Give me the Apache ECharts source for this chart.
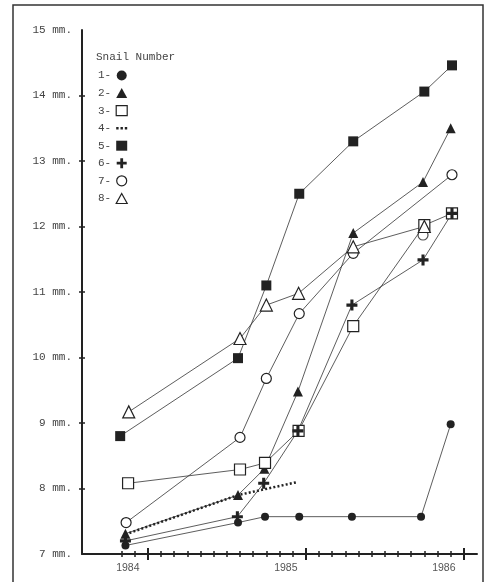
<!DOCTYPE html>
<html lang="en">
<head>
<meta charset="UTF-8">
<title>Snail growth</title>
<style>html,body{margin:0;padding:0;background:#fff;}</style>
</head>
<body>
<div id="main" style="width:487px;height:582px;"></div>
<script src="https://cdn.jsdelivr.net/npm/echarts@6/dist/echarts.min.js"></script>
<script>
// x = months from the 1984 tick, y = shell size in mm
var snail1 = [[-1.7, 7.13], [6.85, 7.48], [8.9, 7.57], [11.5, 7.57], [15.5, 7.57], [20.75, 7.57], [23.0, 8.98]];
var snail2 = [[-1.7, 7.31], [6.85, 7.9], [8.85, 8.3], [11.4, 9.48], [15.6, 11.9], [20.9, 12.68], [23.0, 13.5]];
var snail3 = [[-1.5, 8.08], [7.0, 8.29], [8.9, 8.39], [11.45, 8.88], [15.6, 10.48], [21.0, 12.02], [23.1, 12.2]];
var snail4 = [[-1.7, 7.3], [6.85, 7.9], [11.4, 8.1]];
var snail5 = [[-2.1, 8.8], [6.85, 9.99], [9.0, 11.1], [11.5, 12.5], [15.6, 13.3], [21.0, 14.06], [23.1, 14.46]];
var snail6 = [[-1.7, 7.2], [6.8, 7.57], [8.8, 8.08], [11.4, 8.88], [15.5, 10.8], [20.9, 11.49], [23.1, 12.2]];
var snail7 = [[-1.65, 7.48], [7.0, 8.78], [9.0, 9.68], [11.5, 10.67], [15.6, 11.59], [23.1, 12.79]];
var snail7Loose = [[20.9, 11.87]];
var snail8 = [[-1.45, 9.17], [7.0, 10.29], [9.0, 10.8], [11.45, 10.98], [15.6, 11.69], [21.0, 12.0]];

var snailNames = ['1', '2', '3', '4', '5', '6', '7', '8'];
var yearTicks = [0, 12, 24];
var yearLabels = ['1984', '1985', '1986'];
var monthTicks = [-2, -1, 0, 1, 2, 3, 4, 5, 6, 7, 8, 9, 10, 11, 12, 13, 14, 15, 16, 17, 18, 19, 20, 21, 22, 23, 24];
var mmTicks = [8, 9, 10, 11, 12, 13, 14];

var ink = '#222';
var crossPath = 'path://M3.6,0H6.4V3.6H10V6.4H6.4V10H3.6V6.4H0V3.6H3.6Z';
var dotsPath = 'path://M0,4h2.4v2.4h-2.4z M4.3,4h2.4v2.4h-2.4z M8.6,4h2.4v2.4h-2.4z';
var filled = {color: ink};
var hollow = {color: '#fff', borderColor: ink, borderWidth: 1.2};

var myChart = echarts.init(document.getElementById('main'));

var box = {left: 82, top: 30, right: 10, bottom: 28};
function plainX(i) {
    return {
        type: 'value', gridIndex: i, min: -5, max: 25,
        axisLine: {show: false, onZero: false}, axisLabel: {show: false},
        splitLine: {show: false}, axisTick: {show: false}
    };
}
function plainY(i) {
    return {
        type: 'value', gridIndex: i, min: 7, max: 15, interval: 1,
        axisLine: {show: false, onZero: false}, axisLabel: {show: false},
        splitLine: {show: false}, axisTick: {show: false}
    };
}

var x0 = plainX(0);
x0.axisLine = {show: true, onZero: false, lineStyle: {color: ink, width: 2}};
x0.axisTick = {show: true, customValues: monthTicks, length: 3, lineStyle: {color: ink, width: 1.5}};
x0.axisLabel = {
    show: true, customValues: yearTicks, margin: 9, padding: [0, 40, 0, 0],
    fontFamily: 'Liberation Sans', fontSize: 10.5, color: '#555',
    formatter: function (v) { return yearLabels[yearTicks.indexOf(v)]; }
};
var x1 = plainX(1);
x1.axisTick = {show: true, inside: true, customValues: monthTicks, length: 3, lineStyle: {color: ink, width: 1.5}};
var x2 = plainX(2);
x2.axisTick = {show: true, customValues: yearTicks, length: 6, lineStyle: {color: ink, width: 2}};
var x3 = plainX(3);
x3.axisTick = {show: true, inside: true, customValues: yearTicks, length: 6, lineStyle: {color: ink, width: 2}};

var y0 = plainY(0);
y0.axisLine = {show: true, onZero: false, lineStyle: {color: ink, width: 2}};
y0.axisTick = {show: true, customValues: mmTicks, length: 3, lineStyle: {color: ink, width: 1.5}};
y0.axisLabel = {
    show: true, margin: 10, padding: [0, 0, 8, 0],
    fontFamily: 'Liberation Mono', fontSize: 11, color: '#444',
    formatter: function (v) { return v + ' mm.'; }
};
var y1 = plainY(1);
y1.axisTick = {show: true, inside: true, customValues: mmTicks, length: 3, lineStyle: {color: ink, width: 1.5}};

function snailLine(name, data, symbol, size, style) {
    return {
        type: 'line', name: name, data: data,
        symbol: symbol, symbolSize: size, showAllSymbol: true,
        lineStyle: {color: '#333', width: 0.8},
        itemStyle: style,
        emphasis: {disabled: true}
    };
}

var series = [
    snailLine('1', snail1, 'circle', 8, filled),
    snailLine('2', snail2, 'triangle', 10, filled),
    snailLine('3', snail3, 'rect', 11, hollow),
    {
        type: 'line', name: '4', data: snail4, symbol: 'none',
        lineStyle: {color: ink, width: 2.5, type: [2, 2.2]},
        emphasis: {disabled: true}
    },
    snailLine('5', snail5, 'rect', 10, filled),
    snailLine('6', snail6, crossPath, 11, filled),
    snailLine('7', snail7, 'circle', 10, hollow),
    {
        type: 'scatter', name: '7', data: snail7Loose, symbol: 'circle', symbolSize: 10,
        itemStyle: hollow, emphasis: {disabled: true}
    },
    snailLine('8', snail8, 'triangle', 12, hollow)
];

var legendIcons = ['circle', 'triangle', 'rect', dotsPath, 'rect', crossPath, 'circle', 'triangle'];
var legendStyles = [filled, filled, hollow, filled, filled, filled, hollow, hollow];

var option = {
    animation: false,
    backgroundColor: '#fff',
    title: {
        text: 'Snail Number', left: 96, top: 52, padding: 0,
        textStyle: {fontFamily: 'Liberation Mono', fontSize: 11, fontWeight: 'normal', color: '#444'}
    },
    legend: {
        orient: 'vertical', left: 98, top: 70, padding: 0, align: 'right',
        itemWidth: 11, itemHeight: 10, itemGap: 6.5, selectedMode: false,
        textStyle: {fontFamily: 'Liberation Mono', fontSize: 11, color: '#444', lineHeight: 10},
        formatter: function (n) { return n + '-'; },
        data: snailNames.map(function (n, i) {
            return {name: n, icon: legendIcons[i], itemStyle: legendStyles[i]};
        })
    },
    grid: [box, box, box, box],
    xAxis: [x0, x1, x2, x3],
    yAxis: [y0, y1, plainY(2), plainY(3)],
    graphic: [{
        type: 'polyline', silent: true,
        shape: {points: [[13, 582], [13, 5], [483, 5], [483, 582]]},
        style: {stroke: '#333', lineWidth: 1.5, fill: null}
    }],
    series: series
};
myChart.setOption(option);
</script>
</body>
</html>
